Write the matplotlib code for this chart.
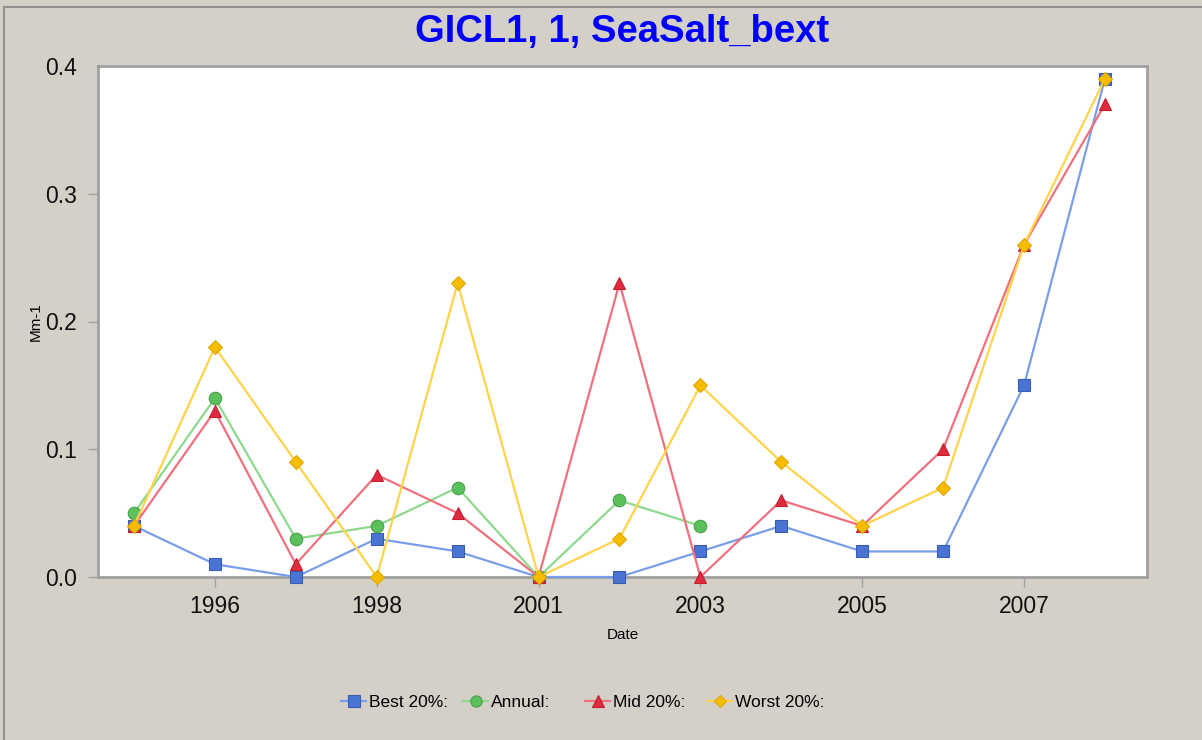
import matplotlib.pyplot as plt
from matplotlib.lines import Line2D

years = ["1995", "1996", "1997", "1998", "2000", "2001", "2002",
         "2003", "2004", "2005", "2006", "2007", "2008"]
best = [0.04, 0.01, 0.00, 0.03, 0.02, 0.00, 0.00, 0.02, 0.04, 0.02, 0.02, 0.15, 0.39]
annual = [0.05, 0.14, 0.03, 0.04, 0.07, 0.00, 0.06, 0.04]
mid = [0.04, 0.13, 0.01, 0.08, 0.05, 0.00, 0.23, 0.00, 0.06, 0.04, 0.10, 0.26, 0.37]
worst = [0.04, 0.18, 0.09, 0.00, 0.23, 0.00, 0.03, 0.15, 0.09, 0.04, 0.07, 0.26, 0.39]
yticks = [0.0, 0.1, 0.2, 0.3, 0.4]

plt.rcParams['font.family'] = ['Liberation Sans', 'DejaVu Sans']
bg = '#d4d0c8'

fig = plt.figure(figsize=(12.02, 7.40), dpi=100, facecolor=bg)
ax = fig.add_axes([98/1202, 1-577/740, (1147-98)/1202, (577-66)/740])

x = list(range(len(years)))
series = [
    (best, 'Best 20%:', 's', '#7b9ee8', '#4a74d4', '#3a5cb0'),
    (annual, 'Annual:', 'o', '#8ed98e', '#5cc05c', '#49a049'),
    (mid, 'Mid 20%:', '^', '#f0707e', '#e02a40', '#c02030'),
    (worst, 'Worst 20%:', 'D', '#ffd34a', '#f5bc00', '#e0a800'),
]
for vals, lab, mk, lc, fc, ec in series:
    ms = 7 if mk == 'D' else 9
    ax.plot(x[:len(vals)], vals, color=lc, linewidth=1.6, marker=mk, markersize=ms,
            markerfacecolor=fc, markeredgecolor=ec, markeredgewidth=0.8,
            label=lab, clip_on=False, zorder=3)

ax.set_xlim(-0.445, 12.52)
ax.set_ylim(0, 0.4)
ax.set_xticks(x[1::2])
ax.set_xticklabels(years[1::2])
ax.set_yticks(yticks)
ax.set_yticklabels([f"{v:.1f}" for v in yticks])
ax.tick_params(axis='both', direction='out', length=7, width=1, color='#a0a0a0',
               labelsize=16.5, labelcolor='#111111')
ax.tick_params(axis='x', pad=6)
ax.tick_params(axis='y', pad=8)
ax.yaxis.get_major_ticks()[-1].tick1line.set_visible(False)
for s in ax.spines.values():
    s.set_color('#a0a0a0')
    s.set_linewidth(2)
ax.set_facecolor('white')

ax.set_xlabel('Date', fontsize=11, labelpad=7)
ax.set_ylabel('Mm-1', fontsize=11, labelpad=2)
fig.text(622/1202, 1-32/740, 'GICL1, 1, SeaSalt_bext', color='#0000ff',
         fontsize=27.5, fontweight='bold', ha='center', va='center')

# legend entries sit in equal-width slots
handles, labels = ax.get_legend_handles_labels()
for i, (h, l) in enumerate(zip(handles, labels)):
    fig.legend([h], [l], loc='center left', bbox_to_anchor=((341 + 122*i)/1202, 1-702/740),
               frameon=False, fontsize=12.5, handlelength=1.45, handletextpad=0.15,
               borderpad=0, borderaxespad=0, markerscale=0.9)

fig.add_artist(Line2D([4/1202, 4/1202], [0, 1-7/740], color='#909090', linewidth=1.5))
fig.add_artist(Line2D([4/1202, 1], [1-7/740, 1-7/740], color='#909090', linewidth=1.5))

fig.savefig('out.png', dpi=100, facecolor=bg)
